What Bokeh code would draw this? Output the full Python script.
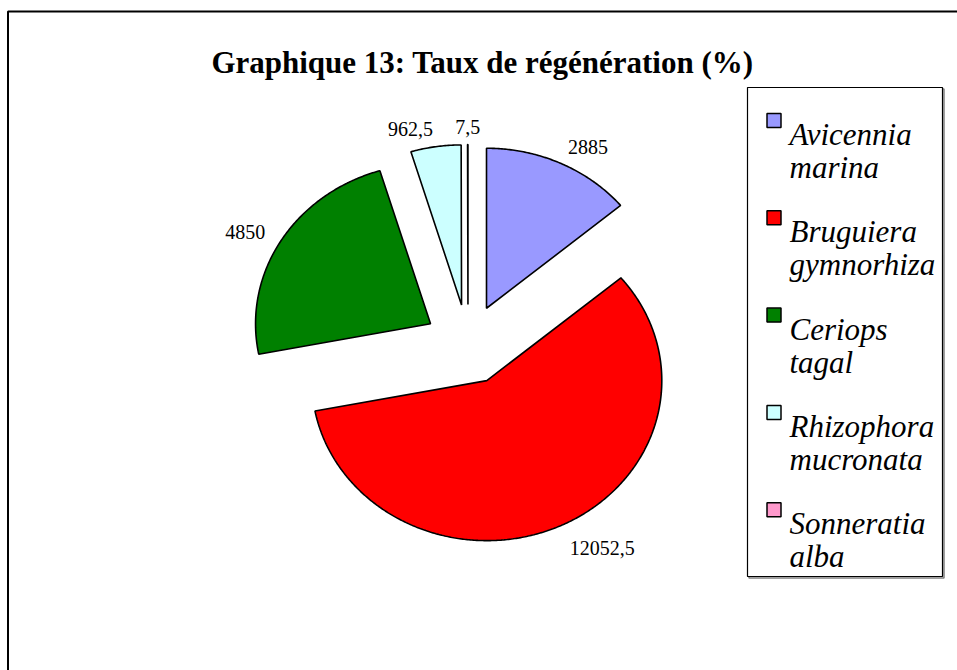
import numpy as np
from bokeh.plotting import figure
from bokeh.models import Range1d, BoxAnnotation
from bokeh.core.properties import value
from bokeh.embed import file_html
from bokeh.resources import INLINE

# ---- data ----
title_text = "Graphique 13: Taux de régénération (%)"
species = ["Avicennia marina", "Bruguiera gymnorhiza", "Ceriops tagal",
           "Rhizophora mucronata", "Sonneratia alba"]
values = [2885, 12052.5, 4850, 962.5, 7.5]
colors = ["#9999FF", "#FF0000", "#008000", "#CCFFFF", "#FF99CC"]

FONT = value("Liberation Serif")

# ---- figure in pixel-like coordinates (y downward) ----
W, H = 957, 670
p = figure(width=W, height=H, x_range=Range1d(0, W), y_range=Range1d(H, 0),
           output_backend="svg", toolbar_location=None,
           x_axis_type=None, y_axis_type=None, min_border=0)
p.grid.visible = False
p.outline_line_color = None
p.background_fill_color = "white"
p.border_fill_color = "white"

# outer chart border (extends beyond the window on right and bottom)
p.add_layout(BoxAnnotation(left=7.5, right=W + 50, top=11, bottom=H + 50,
                           fill_alpha=0, line_color="black", line_alpha=1.0,
                           line_width=2))

# title
p.text(x=[482], y=[62], text=[title_text], text_font=FONT,
       text_font_style="bold", text_font_size="31px",
       text_align="center", text_baseline="alphabetic", text_color="black")

# ---- exploded pie (slightly elliptical like the reference) ----
cx, cy = 467.5, 344.0
rx, ry = 175.0, 160.0
explode = 0.25
vals = np.array(values, dtype=float)
fracs = vals / vals.sum()
ends = np.cumsum(fracs) * 2 * np.pi
starts = ends - fracs * 2 * np.pi

xs, ys = [], []
lab_x, lab_y, lab_align, lab_base = [], [], [], []
for a0, a1 in zip(starts, ends):
    mid = 0.5 * (a0 + a1)
    ax = cx + explode * rx * np.sin(mid)
    ay = cy - explode * ry * np.cos(mid)
    n = max(3, int(np.degrees(a1 - a0) * 2))
    th = np.linspace(a0, a1, n)
    px = np.concatenate([[ax], ax + rx * np.sin(th)])
    py = np.concatenate([[ay], ay - ry * np.cos(th)])
    xs.append(list(px))
    ys.append(list(py))
    # label anchor just outside the slice, along its bisector
    ox = ax + rx * np.sin(mid)
    oy = ay - ry * np.cos(mid)
    s, c = np.sin(mid), np.cos(mid)
    gap = 18.0
    lab_x.append(ox + gap * s)
    lab_y.append(oy - gap * c)
    if abs(s) < 0.1:
        lab_align.append("center")
    elif s > 0:
        lab_align.append("left")
    else:
        lab_align.append("right")
    lab_base.append("alphabetic" if c > 0 else "top")

p.patches(xs=xs, ys=ys, fill_color=colors, line_color="black", line_width=1.6)

labels = [f"{v:g}".replace(".", ",") for v in values]
for i in range(len(values)):
    p.text(x=[lab_x[i]], y=[lab_y[i]], text=[labels[i]], text_font=FONT,
           text_font_size="20px", text_align=lab_align[i],
           text_baseline=lab_base[i], text_color="black")

# ---- legend ----
lx0, ly0, lx1, ly1 = 747, 87, 942, 576
p.add_layout(BoxAnnotation(left=lx0 + 1.5, right=lx1 + 1.5, top=ly0 + 1.5, bottom=ly1 + 1.5,
                           fill_alpha=0, line_color="#808080", line_alpha=1.0,
                           line_width=1.5, level="underlay"))
p.add_layout(BoxAnnotation(left=lx0, right=lx1, top=ly0, bottom=ly1,
                           fill_color="white", fill_alpha=1.0,
                           line_color="black", line_alpha=1.0,
                           line_width=1.2, level="underlay"))
step = 97.3
idx = np.arange(len(species))
p.rect(x=[773.5] * len(species), y=list(120 + idx * step), width=14, height=14,
       fill_color=colors, line_color="black", line_width=1.5)
first = [s.split(" ")[0] for s in species]
second = [s.split(" ")[1] for s in species]
p.text(x=[789] * len(species), y=list(134 + idx * step), text=first,
       text_font=FONT, text_font_style="italic", text_font_size="31px",
       text_align="left", text_baseline="alphabetic", text_color="black")
p.text(x=[789] * len(species), y=list(167 + idx * step), text=second,
       text_font=FONT, text_font_style="italic", text_font_size="31px",
       text_align="left", text_baseline="alphabetic", text_color="black")

open("out.html", "w").write(file_html(p, INLINE))
